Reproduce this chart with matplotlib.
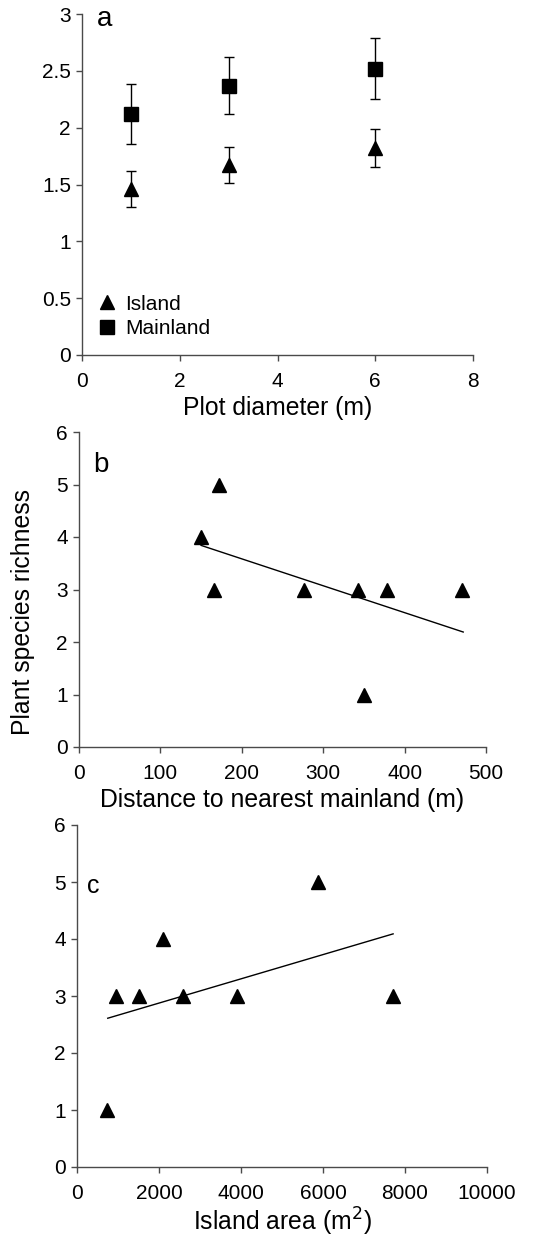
import matplotlib
matplotlib.use("Agg")
import matplotlib.pyplot as plt

plt.rcParams["font.family"] = ["Liberation Sans", "DejaVu Sans"]

# panel a: mean richness vs plot diameter
diam = [1, 3, 6]
island_mean = [1.46, 1.67, 1.82]
island_se = [0.16, 0.16, 0.165]
main_mean = [2.12, 2.37, 2.52]
main_se = [0.265, 0.25, 0.265]

# panel b: richness vs distance to nearest mainland
dist = [150, 172, 166, 276, 343, 378, 470, 350]
rich_b = [4, 5, 3, 3, 3, 3, 3, 1]
fit_b_x = [150, 472]
fit_b_y = [3.84, 2.19]

# panel c: richness vs island area
area = [730, 950, 1500, 2095, 2590, 3900, 5870, 7710]
rich_c = [1, 3, 3, 4, 3, 3, 5, 3]
fit_c_x = [750, 7710]
fit_c_y = [2.61, 4.09]

W, H = 533, 1238
fig = plt.figure(figsize=(W / 100, H / 100), dpi=100)

def box(l, r, t, b):
    return [l / W, 1 - b / H, (r - l) / W, (b - t) / H]

ax_a = fig.add_axes(box(82, 473, 14, 355))
ax_b = fig.add_axes(box(79, 486, 432, 747))
ax_c = fig.add_axes(box(77, 487, 825, 1167))

TICK = 15
LAB = 17.8
MS = 10.5
SPINE = "#4a4a4a"

for ax in (ax_a, ax_b, ax_c):
    ax.spines["top"].set_visible(False)
    ax.spines["right"].set_visible(False)
    for s in ("left", "bottom"):
        ax.spines[s].set_linewidth(1.0)
        ax.spines[s].set_color(SPINE)
    ax.tick_params(direction="out", length=4.5, width=1.0, labelsize=TICK, color=SPINE)
    ax.tick_params(axis="x", pad=7.5)
    ax.tick_params(axis="y", pad=3.5)

# a
ax_a.errorbar(diam, main_mean, yerr=main_se, fmt="none", ecolor="black", elinewidth=1.0, capsize=3.5, capthick=1.0)
ax_a.errorbar(diam, island_mean, yerr=island_se, fmt="none", ecolor="black", elinewidth=1.0, capsize=3.5, capthick=1.0)
ax_a.plot(diam, island_mean, "^", color="black", ms=MS, label="Island")
ax_a.plot(diam, main_mean, "s", color="black", ms=MS, label="Mainland")
ax_a.set_xlim(0, 8)
ax_a.set_ylim(0, 3)
ax_a.set_xticks([0, 2, 4, 6, 8])
ax_a.set_yticks([0, 0.5, 1, 1.5, 2, 2.5, 3])
ax_a.set_yticklabels(["0", "0.5", "1", "1.5", "2", "2.5", "3"])
ax_a.set_xlabel("Plot diameter (m)", fontsize=LAB, labelpad=4)
ax_a.text(0.038, 0.965, "a", transform=ax_a.transAxes, fontsize=20, va="baseline")
ax_a.legend(loc="lower left", frameon=False, fontsize=TICK, handletextpad=0.36,
            handlelength=1.0, borderaxespad=0, borderpad=0, labelspacing=0.25,
            bbox_to_anchor=(0.037, 0.05))

# b
ax_b.plot(dist, rich_b, "^", color="black", ms=MS)
ax_b.plot(fit_b_x, fit_b_y, "-", color="black", lw=1.0)
ax_b.set_xlim(0, 500)
ax_b.set_ylim(0, 6)
ax_b.set_xticks([0, 100, 200, 300, 400, 500])
ax_b.set_yticks(range(7))
ax_b.set_xlabel("Distance to nearest mainland (m)", fontsize=LAB, labelpad=4)
ax_b.set_ylabel("Plant species richness", fontsize=LAB)
ax_b.yaxis.set_label_coords(-0.108, 0.43)
ax_b.text(0.034, 0.873, "b", transform=ax_b.transAxes, fontsize=20, va="baseline")

# c
ax_c.plot(area, rich_c, "^", color="black", ms=MS)
ax_c.plot(fit_c_x, fit_c_y, "-", color="black", lw=1.0)
ax_c.set_xlim(0, 10000)
ax_c.set_ylim(0, 6)
ax_c.set_xticks([0, 2000, 4000, 6000, 8000, 10000])
ax_c.set_yticks(range(7))
ax_c.set_xlabel("Island area (m$^2$)", fontsize=LAB, labelpad=2)
ax_c.text(0.024, 0.801, "c", transform=ax_c.transAxes, fontsize=18, va="baseline")

fig.savefig("out.png", dpi=100)
